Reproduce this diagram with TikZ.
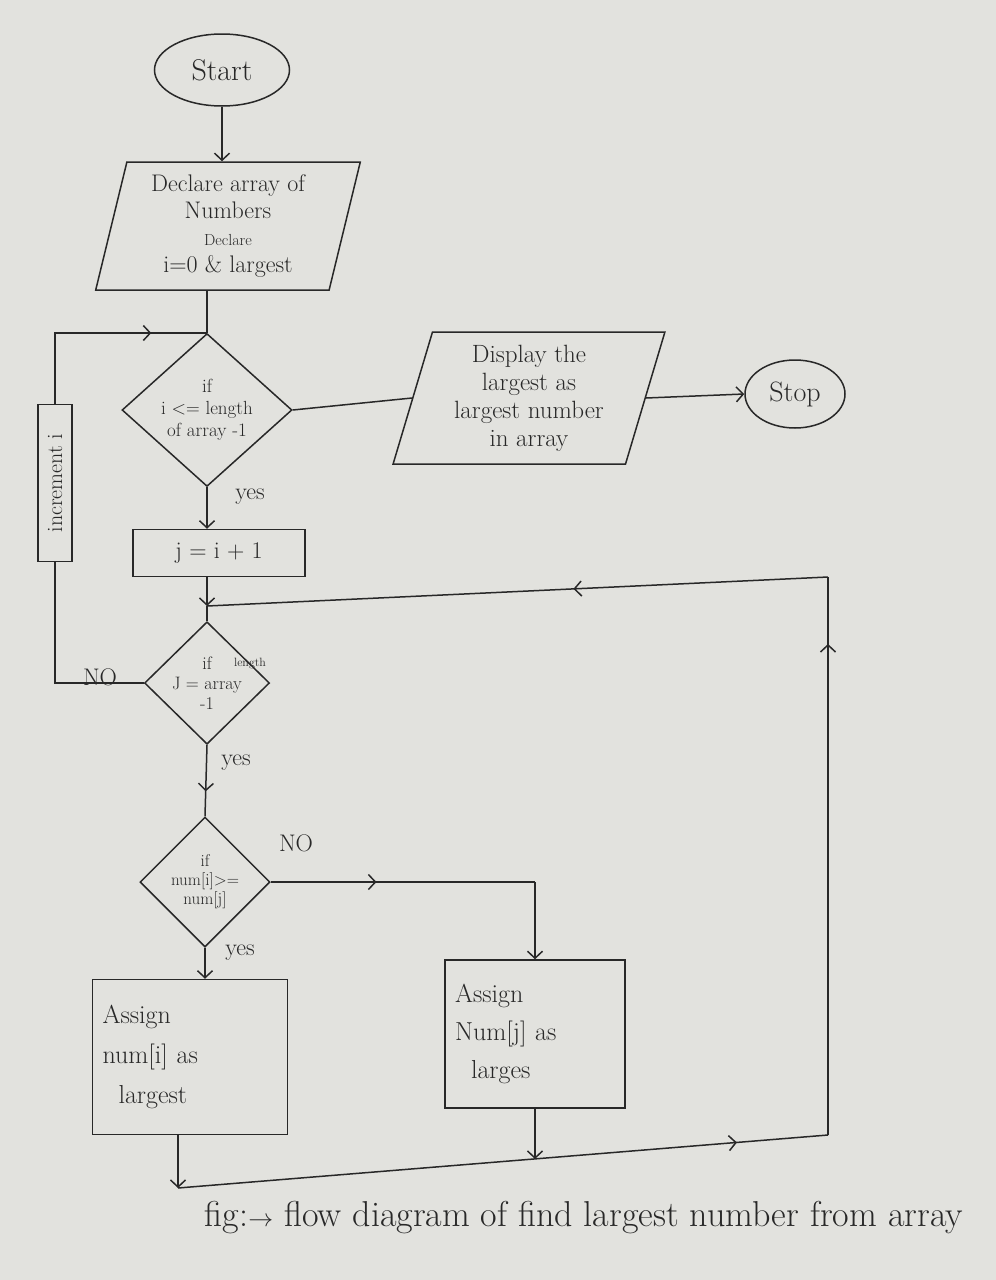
\documentclass[tikz,border=0pt]{standalone}
\usetikzlibrary{shapes.geometric,arrows.meta,decorations.markings,calc}
\definecolor{paper}{RGB}{226,226,222}
\definecolor{ink}{RGB}{40,40,40}
\begin{document}
\begin{tikzpicture}[x=1pt,y=-1pt,
  base/.style={draw=ink, line width=1.5pt, inner sep=0pt, align=center, text=ink, font=\fontsize{24}{27}\selectfont},
  term/.style={base, ellipse},
  io/.style={base, trapezium, trapezium stretches=true},
  dec/.style={base, diamond},
  proc/.style={base, rectangle},
  lbl/.style={text=ink, font=\fontsize{24}{26}\selectfont},
  conn/.style={draw=ink, line width=1.5pt},
  arr/.style={conn, -{Straight Barb[length=7pt,width=15pt]}},
  midarr/.style={conn, postaction={decorate}, decoration={markings, mark=at position #1 with {\arrow{Straight Barb[length=7pt,width=15pt]}}}},
  midarr/.default=0.5]
\fill[paper] (0,0) rectangle (996,1280);

% nodes
\node[term, minimum width=135pt, minimum height=72pt, font=\fontsize{30}{32}\selectfont] (start) at (222,70) {Start};
\node[io, trapezium left angle=77, trapezium right angle=103, minimum width=265pt, minimum height=128pt] (decl) at (228,226)
  {Declare array of\\Numbers\\{\fontsize{16}{18}\selectfont Declare}\\i=0 \& largest};
\node[dec, minimum width=170pt, minimum height=140pt, font=\fontsize{19}{22}\selectfont] (d1) at (207,410)
  {if\\i <= length\\of array -1};
\node[io, trapezium left angle=74, trapezium right angle=106, minimum width=272pt, minimum height=132pt, font=\fontsize{25}{28}\selectfont] (disp) at (529,398)
  {Display the\\largest as\\largest number\\in array};
\node[term, minimum width=100pt, minimum height=68pt, font=\fontsize{28}{30}\selectfont] (stop) at (795,394) {Stop};
\node[proc, minimum width=172pt, minimum height=47pt] (jbox) at (219,553) {j = i + 1};
\node[proc, minimum width=34pt, minimum height=157pt, font=\fontsize{22}{24}\selectfont] (inc) at (55,483) {\rotatebox{90}{increment i}};
\node[dec, minimum width=125pt, minimum height=118pt, font=\fontsize{18}{20}\selectfont] (d2) at (207,683)
  {if\\J = array\\-1};
\node[lbl, font=\fontsize{12}{13}\selectfont] (len) at (250,664) {length};
\node[dec, minimum width=130pt, minimum height=130pt, font=\fontsize{17}{19}\selectfont] (d3) at (205,882)
  {if\\num[i]>=\\num[j]};
\node[proc, minimum width=195pt, minimum height=155pt, align=left, text width=175pt, font=\fontsize{26}{40}\selectfont] (boxL) at (190,1057)
  {Assign\\num[i] as\\\hspace*{16pt}largest};
\node[proc, minimum width=180pt, minimum height=148pt, align=left, text width=160pt, font=\fontsize{26}{38}\selectfont] (boxR) at (535,1034)
  {Assign\\Num[j] as\\\hspace*{16pt}larges};

% labels
\node[lbl] (yes1) at (250,497) {yes};
\node[lbl] (no1) at (100,677) {NO};
\node[lbl] (yes2) at (236,763) {yes};
\node[lbl] (no2) at (296,843) {NO};
\node[lbl] (yes3) at (240,953) {yes};
\node[text=ink, font=\fontsize{36}{40}\selectfont] (cap) at (584,1218)
  {fig:$\rightarrow$ flow diagram of find largest number from array};

% helper coordinates
\coordinate (j1) at (207,333);
\coordinate (j2) at (207,606);
\coordinate (c1) at (178,1188);
\coordinate (c2) at (828,1135);
\coordinate (c3) at (828,577);
\coordinate (c4) at (535,1159);

% connectors
\draw[arr] (start.south) -- (start.south |- decl.north);
\draw[conn] (decl.south -| d1.north) -- (d1.north);
\draw[midarr=0.75] (inc.north) -- (inc.north |- j1) -- (j1);
\draw[conn] (d1.east) -- (disp.west);
\draw[arr] (disp.east) -- (stop.west);
\draw[arr] (d1.south) -- (jbox.north -| d1.south);
\draw[arr] (jbox.south -| j2) -- (j2);
\draw[conn] (j2) -- (d2.north);
\draw[conn] (d2.west) -- (d2.west -| inc.south) -- (inc.south);
\draw[midarr=0.65] (d2.south) -- (d3.north);
\draw[midarr=0.4] (d3.east) -- (d3.east -| boxR.north);
\draw[arr] (d3.east -| boxR.north) -- (boxR.north);
\draw[arr] (d3.south) -- (boxL.north -| d3.south);
\draw[arr] (boxL.south -| c1) -- (c1);
\draw[midarr=0.86] (c1) -- (c2);
\draw[midarr=0.88] (c2) -- (c3);
\draw[midarr=0.41] (c3) -- (j2);
\draw[arr] (boxR.south) -- (c4);
\end{tikzpicture}
\end{document}
